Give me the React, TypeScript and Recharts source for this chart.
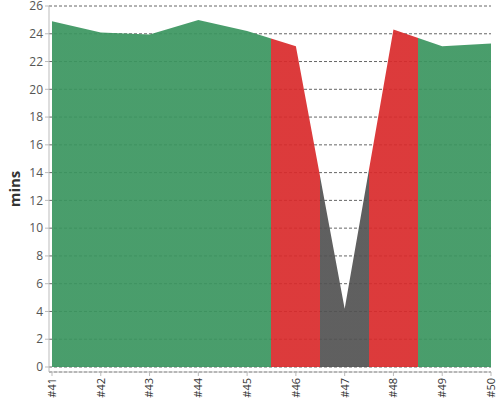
import React from 'react';
import { AreaChart, Area, XAxis, YAxis, CartesianGrid } from 'recharts';

// 数据
const runs = ['#41', '#42', '#43', '#44', '#45', '#46', '#47', '#48', '#49', '#50'];
const minutes = [24.9, 24.1, 23.95, 25.0, 24.2, 23.1, 4.2, 24.3, 23.1, 23.3];
const status = ['ok', 'ok', 'ok', 'ok', 'ok', 'fail', 'abort', 'fail', 'ok', 'ok'];
const yTicks = [0, 2, 4, 6, 8, 10, 12, 14, 16, 18, 20, 22, 24, 26];

// 颜色映射
const colorMap: Record<string, string> = {
  ok: '#3a955f',
  fail: '#d92a2b',
  abort: '#525252',
};

const chartData = runs.map((name, i) => ({ name, value: minutes[i] }));

// 每个点占据 [i-0.5, i+0.5] 的横向区间
const stops = status.flatMap((s, i) => {
  const n = runs.length - 1;
  const from = Math.max(0, (i - 0.5) / n);
  const to = Math.min(1, (i + 0.5) / n);
  return [
    { offset: from, color: colorMap[s] },
    { offset: to, color: colorMap[s] },
  ];
});

const font = '"Open Sans", "Noto Sans", sans-serif';

// 竖排的 x 轴标签
const RunTick = (props: any) => {
  const { x, y, payload } = props;
  return (
    <g transform={`translate(${x},${y})`}>
      <text
        x={0}
        y={0}
        dy="0.35em"
        textAnchor="end"
        transform="rotate(-90)"
        fontSize={11}
        fill="#333"
        fontFamily={font}
      >
        {payload.value}
      </text>
    </g>
  );
};

export default function App() {
  return (
    <div style={{ position: 'absolute', left: 0, top: 0, width: 500, height: 400, background: '#fff' }}>
      <AreaChart width={500} height={400} data={chartData} margin={{ top: 6, right: 9, bottom: 0, left: 0 }}>
        <defs>
          <linearGradient id="statusFill" x1="0" y1="0" x2="1" y2="0">
            {stops.map((s, i) => (
              <stop key={i} offset={s.offset} stopColor={s.color} />
            ))}
          </linearGradient>
        </defs>
        <CartesianGrid vertical={false} stroke="#666" strokeDasharray="3 2" />
        <XAxis
          dataKey="name"
          height={28}
          padding={{ left: 3, right: 0 }}
          interval={0}
          tick={<RunTick />}
          tickSize={4}
          stroke="#bbb"
        />
        <YAxis
          width={49}
          domain={[0, 26]}
          ticks={yTicks}
          interval={0}
          padding={{ top: 0, bottom: 5 }}
          tick={{ fontSize: 12, fill: '#555', fontFamily: font }}
          tickSize={4}
          stroke="#bbb"
          label={{
            value: 'mins',
            angle: -90,
            position: 'insideLeft',
            offset: 15,
            style: { fontSize: 15, fontWeight: 'bold', fill: '#333', fontFamily: font, textAnchor: 'middle' },
          }}
        />
        <Area
          type="linear"
          dataKey="value"
          stroke="none"
          fill="url(#statusFill)"
          fillOpacity={0.92}
          isAnimationActive={false}
        />
      </AreaChart>
    </div>
  );
}
